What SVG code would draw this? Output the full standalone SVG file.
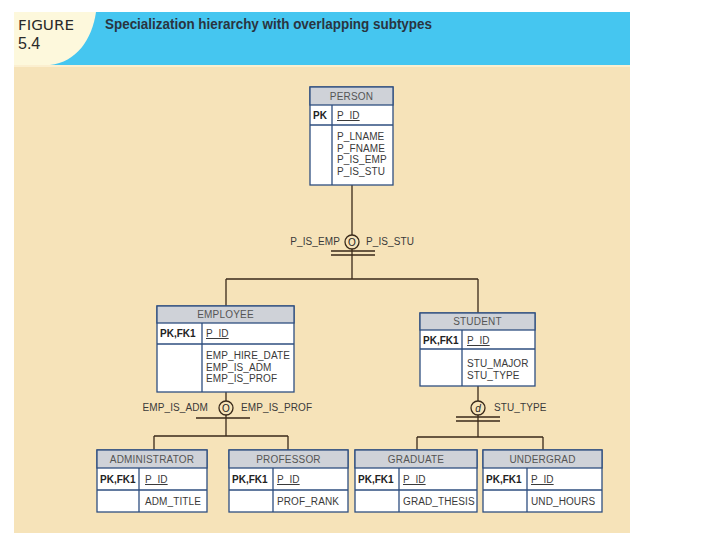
<svg xmlns="http://www.w3.org/2000/svg" width="720" height="540" viewBox="0 0 720 540">
<style>
.tb{fill:#ffffff;stroke:#2f4f80;stroke-width:1.3}
.hd{fill:#cfd2d8;stroke:#2f4f80;stroke-width:1.3}
.ln{stroke:#2f4f80;stroke-width:1.3;fill:none}
.t{font-family:"Liberation Sans",Arial,sans-serif;font-size:10px;fill:#3a3a3a;letter-spacing:0.1px}
.h{font-family:"Liberation Sans",Arial,sans-serif;font-size:10px;fill:#555;text-anchor:middle;letter-spacing:0.2px}
.k{font-family:"Liberation Sans",Arial,sans-serif;font-size:10px;fill:#222;font-weight:bold}
.u{text-decoration:underline}
.c{stroke:#3a2a1a;stroke-width:1.3;fill:none}
.cs{stroke:#3a2a1a;stroke-width:1.3;fill:#f6e3b9}
</style>
<rect x="0" y="0" width="720" height="540" fill="#ffffff"/>
<rect x="14" y="65" width="616" height="468" fill="#f6e3b9"/>
<rect x="14" y="12" width="616" height="53" fill="#45c6f0"/>
<path d="M14,12 H96 C92,40 76,62 50,65 H14 Z" fill="#fdf8dc"/>
<rect x="14" y="65" width="616" height="2" fill="#fbefd0"/>
<text x="18" y="30" style="font-family:'Liberation Sans Narrow','DejaVu Sans Condensed',sans-serif;font-size:14px;fill:#2a2a2a" textLength="56" lengthAdjust="spacingAndGlyphs">FIGURE</text>
<text x="18" y="49" style="font-family:'Liberation Sans',sans-serif;font-size:16px;fill:#2a2a2a">5.4</text>
<text x="105" y="29" style="font-family:'Liberation Sans',sans-serif;font-size:14px;font-weight:bold;fill:#2a3440" textLength="327" lengthAdjust="spacingAndGlyphs">Specialization hierarchy with overlapping subtypes</text>

<g id="connectors">
<path class="c" d="M352,185 V235"/>
<circle class="cs" cx="352" cy="242" r="7"/>
<path class="c" d="M331,251 H375 M331,255 H375 M352,249 V279 M226,279 H478 M226,279 V306 M478,279 V313"/>
<path class="c" d="M226,392 V401"/>
<circle class="cs" cx="226" cy="408" r="7"/>
<path class="c" d="M196,418 H250 M226,415 V436 M154,436 H288 M154,436 V450 M288,436 V450"/>
<path class="c" d="M478,386 V401"/>
<circle class="cs" cx="478" cy="408" r="7"/>
<path class="c" d="M456,417 H500 M456,421 H500 M478,415 V437 M417,437 H543 M417,437 V450 M543,437 V450"/>
<text class="t" x="340" y="245" text-anchor="end">P_IS_EMP</text>
<text class="t" x="366" y="245">P_IS_STU</text>
<text x="352" y="245.5" style="font-family:'Liberation Sans',sans-serif;font-size:10px;fill:#222;text-anchor:middle">O</text>
<text class="t" x="208" y="411" text-anchor="end">EMP_IS_ADM</text>
<text class="t" x="241" y="411">EMP_IS_PROF</text>
<text x="226" y="411.5" style="font-family:'Liberation Sans',sans-serif;font-size:10px;fill:#222;text-anchor:middle">O</text>
<text class="t" x="494" y="411">STU_TYPE</text>
<text x="478" y="411.5" style="font-family:'Liberation Sans',sans-serif;font-size:10px;fill:#222;text-anchor:middle;font-style:italic">d</text>
</g>

<g id="person">
<rect class="tb" x="310" y="87" width="83" height="98"/>
<rect class="hd" x="310" y="87" width="83" height="18"/>
<path class="ln" d="M310,125 H393 M332,105 V185"/>
<text class="h" x="351.5" y="99.5">PERSON</text>
<text class="k" x="313" y="119">PK</text>
<text class="t u" x="337" y="119">P_ID</text>
<text class="t" x="337" y="140">P_LNAME</text>
<text class="t" x="337" y="151.5">P_FNAME</text>
<text class="t" x="337" y="163">P_IS_EMP</text>
<text class="t" x="337" y="174.5">P_IS_STU</text>
</g>

<g id="employee">
<rect class="tb" x="157" y="306" width="137" height="86"/>
<rect class="hd" x="157" y="306" width="137" height="17"/>
<path class="ln" d="M157,344 H294 M202,323 V392"/>
<text class="h" x="225.5" y="318">EMPLOYEE</text>
<text class="k" x="160" y="337">PK,FK1</text>
<text class="t u" x="206" y="337">P_ID</text>
<text class="t" x="206" y="359">EMP_HIRE_DATE</text>
<text class="t" x="206" y="370.5">EMP_IS_ADM</text>
<text class="t" x="206" y="382">EMP_IS_PROF</text>
</g>

<g id="student">
<rect class="tb" x="420" y="313" width="115" height="73"/>
<rect class="hd" x="420" y="313" width="115" height="17"/>
<path class="ln" d="M420,349 H535 M462,330 V386"/>
<text class="h" x="477.5" y="325">STUDENT</text>
<text class="k" x="423" y="344">PK,FK1</text>
<text class="t u" x="467" y="344">P_ID</text>
<text class="t" x="467" y="367">STU_MAJOR</text>
<text class="t" x="467" y="378.5">STU_TYPE</text>
</g>

<g id="administrator">
<rect class="tb" x="97" y="450" width="110" height="62"/>
<rect class="hd" x="97" y="450" width="110" height="18"/>
<path class="ln" d="M97,490 H207 M139,468 V512"/>
<text class="h" x="152" y="462.5">ADMINISTRATOR</text>
<text class="k" x="100" y="483">PK,FK1</text>
<text class="t u" x="145" y="483">P_ID</text>
<text class="t" x="145" y="505">ADM_TITLE</text>
</g>

<g id="professor">
<rect class="tb" x="229" y="450" width="119" height="62"/>
<rect class="hd" x="229" y="450" width="119" height="18"/>
<path class="ln" d="M229,490 H348 M273,468 V512"/>
<text class="h" x="288.5" y="462.5">PROFESSOR</text>
<text class="k" x="232" y="483">PK,FK1</text>
<text class="t u" x="277" y="483">P_ID</text>
<text class="t" x="277" y="505">PROF_RANK</text>
</g>

<g id="graduate">
<rect class="tb" x="355" y="450" width="122" height="62"/>
<rect class="hd" x="355" y="450" width="122" height="18"/>
<path class="ln" d="M355,490 H477 M399,468 V512"/>
<text class="h" x="416" y="462.5">GRADUATE</text>
<text class="k" x="358" y="483">PK,FK1</text>
<text class="t u" x="403" y="483">P_ID</text>
<text class="t" x="403" y="505">GRAD_THESIS</text>
</g>

<g id="undergrad">
<rect class="tb" x="483" y="450" width="119" height="62"/>
<rect class="hd" x="483" y="450" width="119" height="18"/>
<path class="ln" d="M483,490 H602 M527,468 V512"/>
<text class="h" x="542.5" y="462.5">UNDERGRAD</text>
<text class="k" x="486" y="483">PK,FK1</text>
<text class="t u" x="531" y="483">P_ID</text>
<text class="t" x="531" y="505">UND_HOURS</text>
</g>
</svg>
